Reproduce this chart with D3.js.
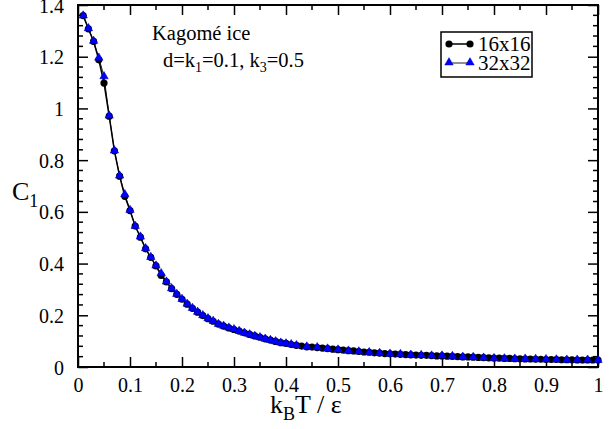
<!DOCTYPE html>
<html><head><meta charset="utf-8">
<script src="https://cdn.jsdelivr.net/npm/d3@7"></script>
<style>body{margin:0;background:#fff}svg{display:block}svg text{font-family:'Liberation Serif','Tinos','Times New Roman','Nimbus Roman','DejaVu Serif',serif}</style>
</head><body><svg id="c" width="616" height="429"></svg>
<script>
const xTicks = [0,0.1,0.2,0.3,0.4,0.5,0.6,0.7,0.8,0.9,1];
const xTickLabels = ["0","0.1","0.2","0.3","0.4","0.5","0.6","0.7","0.8","0.9","1"];
const yTicks = [0,0.2,0.4,0.6,0.8,1,1.2,1.4];
const yTickLabels = ["0","0.2","0.4","0.6","0.8","1","1.2","1.4"];
const seriesNames = ["16x16","32x32"];

// 16x16
const T16 = [0.01,0.02,0.03,0.04,0.05,0.06,0.07,0.08,0.09,0.10,0.11,0.12,0.13,0.14,0.15,0.16,0.17,0.18,0.19,0.20,
0.21,0.22,0.23,0.24,0.25,0.26,0.27,0.28,0.29,0.30,0.31,0.32,0.33,0.34,0.35,0.36,0.37,0.38,0.39,0.40,
0.41,0.42,0.43,0.44,0.45,0.46,0.47,0.48,0.49,0.50,0.51,0.52,0.53,0.54,0.55,0.56,0.57,0.58,0.59,0.60,
0.61,0.62,0.63,0.64,0.65,0.66,0.67,0.68,0.69,0.70,0.71,0.72,0.73,0.74,0.75,0.76,0.77,0.78,0.79,0.80,
0.81,0.82,0.83,0.84,0.85,0.86,0.87,0.88,0.89,0.90,0.91,0.92,0.93,0.94,0.95,0.96,0.97,0.98,0.99,1.00];
const C16 = [1.359,1.308,1.259,1.188,1.098,0.970,0.836,0.738,0.660,0.605,0.545,0.502,0.457,0.424,0.391,0.354,0.329,0.303,0.281,0.262,
0.243,0.227,0.212,0.199,0.187,0.177,0.166,0.158,0.151,0.145,0.139,0.132,0.126,0.120,0.115,0.109,0.104,0.099,0.094,0.091,
0.087,0.084,0.081,0.078,0.077,0.075,0.073,0.071,0.069,0.067,0.065,0.063,0.062,0.060,0.058,0.057,0.055,0.054,0.052,0.051,
0.050,0.049,0.048,0.047,0.046,0.045,0.045,0.044,0.043,0.043,0.042,0.041,0.040,0.039,0.039,0.038,0.037,0.036,0.035,0.034,
0.034,0.033,0.033,0.032,0.032,0.031,0.031,0.030,0.030,0.029,0.029,0.029,0.028,0.028,0.028,0.027,0.027,0.027,0.027,0.027];

// 32x32
const T32 = [0.01,0.02,0.03,0.04,0.05,0.06,0.07,0.08,0.09,0.10,0.11,0.12,0.13,0.14,0.15,0.16,0.17,0.18,0.19,0.20,
0.21,0.22,0.23,0.24,0.25,0.26,0.27,0.28,0.29,0.30,0.31,0.32,0.33,0.34,0.35,0.36,0.37,0.38,0.39,0.40,
0.41,0.42,0.44,0.46,0.48,0.50,0.52,0.54,0.56,0.58,0.60,0.62,0.64,0.66,0.68,0.70,0.72,0.74,0.76,0.78,
0.80,0.82,0.84,0.86,0.88,0.90,0.92,0.94,0.96,0.98,1.00];
const C32 = [1.359,1.310,1.261,1.196,1.124,0.972,0.837,0.740,0.668,0.607,0.545,0.504,0.459,0.425,0.392,0.362,0.330,0.304,0.282,0.263,
0.244,0.228,0.213,0.200,0.188,0.178,0.166,0.159,0.152,0.146,0.139,0.132,0.126,0.120,0.115,0.109,0.104,0.099,0.094,0.091,
0.088,0.084,0.079,0.076,0.071,0.067,0.063,0.060,0.057,0.054,0.051,0.050,0.047,0.046,0.044,0.044,0.042,0.039,0.038,0.036,
0.034,0.033,0.032,0.032,0.031,0.030,0.029,0.028,0.028,0.028,0.027];

const FONT = "'Liberation Serif','Tinos','Times New Roman','Nimbus Roman','DejaVu Serif',serif";
const svg = d3.select("#c");
const L = 78, R = 598, T = 5, B = 367;
const x = d3.scaleLinear().domain([0,1]).range([L,R]);
const y = d3.scaleLinear().domain([0,1.4]).range([B,T]);

svg.append("rect").attr("x",L).attr("y",T).attr("width",R-L).attr("height",B-T)
  .attr("fill","none").attr("stroke","#000").attr("stroke-width",2);

const xMinor = d3.range(0.05,1,0.1);
const yMinor = d3.range(0,1.4001,0.04).filter(v=>Math.abs(v/0.2-Math.round(v/0.2))>1e-6);

const axB = d3.axisBottom(x).tickValues(xTicks).tickSize(-10).tickPadding(14).tickFormat((d,i)=>xTickLabels[i]);
const gB = svg.append("g").attr("transform",`translate(0,${B})`).call(axB);
gB.append("g").call(g=>g.selectAll(".m").data(xMinor).join("line").attr("x1",d=>x(d)).attr("x2",d=>x(d)).attr("y1",0).attr("y2",-5));
const axT = d3.axisTop(x).tickValues(xTicks).tickSize(-10).tickFormat("");
const gT = svg.append("g").attr("transform",`translate(0,${T})`).call(axT);
gT.append("g").call(g=>g.selectAll(".m").data(xMinor).join("line").attr("x1",d=>x(d)).attr("x2",d=>x(d)).attr("y1",0).attr("y2",5));
const axL = d3.axisLeft(y).tickValues(yTicks).tickSize(-10).tickPadding(14).tickFormat((d,i)=>yTickLabels[i]);
const gL = svg.append("g").attr("transform",`translate(${L},0)`).call(axL);
gL.append("g").call(g=>g.selectAll(".m").data(yMinor).join("line").attr("y1",d=>y(d)).attr("y2",d=>y(d)).attr("x1",0).attr("x2",5));
const axR = d3.axisRight(y).tickValues(yTicks).tickSize(-10).tickFormat("");
const gR = svg.append("g").attr("transform",`translate(${R},0)`).call(axR);
gR.append("g").call(g=>g.selectAll(".m").data(yMinor).join("line").attr("y1",d=>y(d)).attr("y2",d=>y(d)).attr("x1",0).attr("x2",-5));

[gB,gT,gL,gR].forEach(g=>{
  g.attr("font-family",FONT);
  g.select(".domain").remove();
  g.selectAll("line").attr("stroke","#000").attr("stroke-width",1.5);
  g.selectAll("text").attr("font-size",20).attr("fill","#000");
});
gB.selectAll(".tick text").attr("dy","0.55em");
gL.selectAll(".tick text").attr("dy","0.35em");

const d16 = T16.map((t,i)=>[t,C16[i]]);
const d32 = T32.map((t,i)=>[t,C32[i]]);
const line = d3.line().x(d=>x(d[0])).y(d=>y(d[1]));

svg.append("path").datum(d32).attr("d",line).attr("fill","none").attr("stroke","#222").attr("stroke-width",1);
svg.append("path").datum(d16).attr("d",line).attr("fill","none").attr("stroke","#000").attr("stroke-width",1.5);
svg.append("g").selectAll("circle").data(d16).join("circle")
  .attr("cx",d=>x(d[0])).attr("cy",d=>y(d[1])).attr("r",3.6).attr("fill","#000");
const tri = d3.symbol().type(d3.symbolTriangle).size(30);
svg.append("g").selectAll("path").data(d32).join("path")
  .attr("transform",d=>`translate(${x(d[0])},${y(d[1])})`).attr("d",tri)
  .attr("fill","#0000ff").attr("stroke","#0000cc").attr("stroke-width",0.6);

const lg = svg.append("g").attr("font-family",FONT);
lg.append("rect").attr("x",441).attr("y",32).attr("width",91).attr("height",45)
  .attr("fill","#fff").attr("stroke","#000").attr("stroke-width",1.5);
lg.append("line").attr("x1",449).attr("x2",470).attr("y1",44).attr("y2",44).attr("stroke","#000").attr("stroke-width",1.5);
[449,470].forEach(cx=>lg.append("circle").attr("cx",cx).attr("cy",44).attr("r",3.6).attr("fill","#000"));
lg.append("line").attr("x1",449).attr("x2",470).attr("y1",63).attr("y2",63).attr("stroke","#222").attr("stroke-width",1);
[449,470].forEach(cx=>lg.append("path").attr("transform",`translate(${cx},62.5)`).attr("d",tri).attr("fill","#0000ff").attr("stroke","#0000cc").attr("stroke-width",0.6));
lg.append("text").attr("x",478).attr("y",51).attr("font-size",21).text(seriesNames[0]);
lg.append("text").attr("x",478).attr("y",70).attr("font-size",21).text(seriesNames[1]);

const ann = svg.append("g").attr("font-family",FONT);
ann.append("text").attr("x",152).attr("y",40).attr("font-size",20.5).text("Kagomé ice");
const a2 = ann.append("text").attr("x",163).attr("y",67).attr("font-size",20.5);
a2.append("tspan").text("d=k");
a2.append("tspan").attr("font-size",14).attr("dy",5).text("1");
a2.append("tspan").attr("dy",-5).text("=0.1, k");
a2.append("tspan").attr("font-size",14).attr("dy",5).text("3");
a2.append("tspan").attr("dy",-5).text("=0.5");

const ttl = svg.append("g").attr("font-family",FONT);
const xt = ttl.append("text").attr("x",270).attr("y",413).attr("font-size",26);
xt.append("tspan").text("k");
xt.append("tspan").attr("font-size",18).attr("dy",7).text("B");
xt.append("tspan").attr("dy",-7).text("T / ε");
const yt = ttl.append("text").attr("x",12).attr("y",200).attr("font-size",26);
yt.append("tspan").text("C");
yt.append("tspan").attr("font-size",18).attr("dy",7).text("1");
</script></body></html>
